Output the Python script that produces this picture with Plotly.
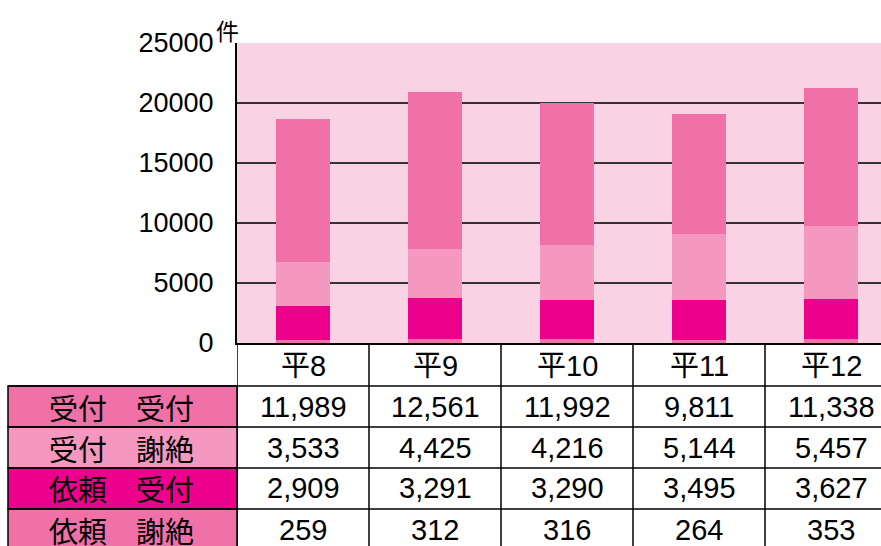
import plotly.graph_objects as go

categories = ["平8", "平9", "平10", "平11", "平12"]
series_names = ["受付　受付", "受付　謝絶", "依頼　受付", "依頼　謝絶"]

# values printed in the data table
uketsuke_uketsuke = [11989, 12561, 11992, 9811, 11338]
uketsuke_shazetsu = [3533, 4425, 4216, 5144, 5457]
irai_uketsuke = [2909, 3291, 3290, 3495, 3627]
irai_shazetsu = [259, 312, 316, 264, 353]

# bar segment heights as drawn in the chart (estimated from the picture;
# the drawn bars differ slightly from the printed table)
bar_uketsuke_uketsuke = [11896, 13061, 11787, 9986, 11480]
bar_uketsuke_shazetsu = [3661, 4075, 4580, 5494, 6075]
bar_irai_uketsuke = [2844, 3458, 3284, 3336, 3332]
bar_irai_shazetsu = [259, 312, 316, 264, 353]

y_ticks = [0, 5000, 10000, 15000, 20000, 25000]
unit_label = "件"

table_values = [uketsuke_uketsuke, uketsuke_shazetsu, irai_uketsuke, irai_shazetsu]
bar_values = [bar_uketsuke_uketsuke, bar_uketsuke_shazetsu, bar_irai_uketsuke, bar_irai_shazetsu]
series_colors = ["#F070A8", "#F498C0", "#EC008C", "#F070A8"]

W, H = 881, 546
L, R, T = 237, 0, 43
PH = 300
B = H - T - PH
PW = W - L - R
col_w = 132.0
x_max = -0.5 + PW / col_w

def py(y_px):
    return (T + PH - y_px) / PH

def px(x_px):
    return (x_px - L) / PW

NUM_FONT = "Liberation Sans, Arial, sans-serif"
CJK_FONT = "Liberation Sans, Arial, Noto Sans CJK JP, sans-serif"

fig = go.Figure()
for idx in [3, 2, 1, 0]:
    fig.add_trace(go.Bar(
        x=categories, y=bar_values[idx], name=series_names[idx],
        marker=dict(color=series_colors[idx], line=dict(width=0)),
        width=0.41, showlegend=False,
    ))

shapes = []
annotations = []
line = dict(color="black", width=1.5)

row_tops = [343, 386, 427, 468, 509]
row_bottoms = [386, 427, 468, 509, 550]
left_x0 = 8

for r in range(4):
    y0, y1 = row_tops[r + 1], row_bottoms[r + 1]
    shapes.append(dict(type="rect", xref="paper", yref="paper",
                       x0=px(left_x0), x1=px(237), y0=py(y1), y1=py(y0),
                       fillcolor=series_colors[r], line=line, layer="above"))
    annotations.append(dict(xref="paper", yref="paper", x=px((left_x0 + 237) / 2 - 1),
                            y=py((y0 + y1) / 2), text=series_names[r], showarrow=False,
                            font=dict(family="Noto Sans CJK JP", size=29, color="black"),
                            xanchor="center", yanchor="middle"))

for y in row_tops[1:]:
    shapes.append(dict(type="line", xref="paper", yref="paper",
                       x0=px(left_x0), x1=1, y0=py(y), y1=py(y), line=line))
for i in range(len(categories)):
    shapes.append(dict(type="line", xref="x", yref="paper",
                       x0=i - 0.5, x1=i - 0.5, y0=py(343), y1=py(550), line=line))

for i, c in enumerate(categories):
    annotations.append(dict(xref="x", yref="paper", x=c, y=py((343 + 386) / 2 + 1),
                            text=c, showarrow=False, xanchor="center", yanchor="middle",
                            font=dict(family=CJK_FONT, size=29, color="black")))
    for r in range(4):
        annotations.append(dict(xref="x", yref="paper", x=c,
                                y=py((row_tops[r + 1] + row_bottoms[r + 1]) / 2),
                                text=f"{table_values[r][i]:,}", showarrow=False,
                                xanchor="center", yanchor="middle",
                                font=dict(family=NUM_FONT, size=29, color="black")))

annotations.append(dict(xref="paper", yref="paper", x=px(227), y=py(30), text=unit_label,
                        showarrow=False, xanchor="center", yanchor="middle",
                        font=dict(family="Noto Sans CJK JP", size=23, color="black")))

fig.update_layout(
    width=W, height=H,
    margin=dict(l=L, r=R, t=T, b=B, pad=0),
    barmode="stack",
    paper_bgcolor="white",
    plot_bgcolor="#F9D3E4",
    shapes=shapes,
    annotations=annotations,
    xaxis=dict(range=[-0.5, x_max], showticklabels=False, showgrid=False,
               zeroline=False, showline=True, linecolor="black", linewidth=2,
               fixedrange=True),
    yaxis=dict(range=[0, 25000], tickvals=y_ticks, tickformat="d",
               showgrid=True, gridcolor="#333333", gridwidth=1.5,
               zeroline=False, showline=True, linecolor="black", linewidth=2,
               ticks="", ticklabelstandoff=16,
               tickfont=dict(family=NUM_FONT, size=27, color="black")),
)

fig.write_html("out.html", config={"displayModeBar": False},
               post_script="document.body.style.margin='0';document.body.style.overflow='hidden';")
